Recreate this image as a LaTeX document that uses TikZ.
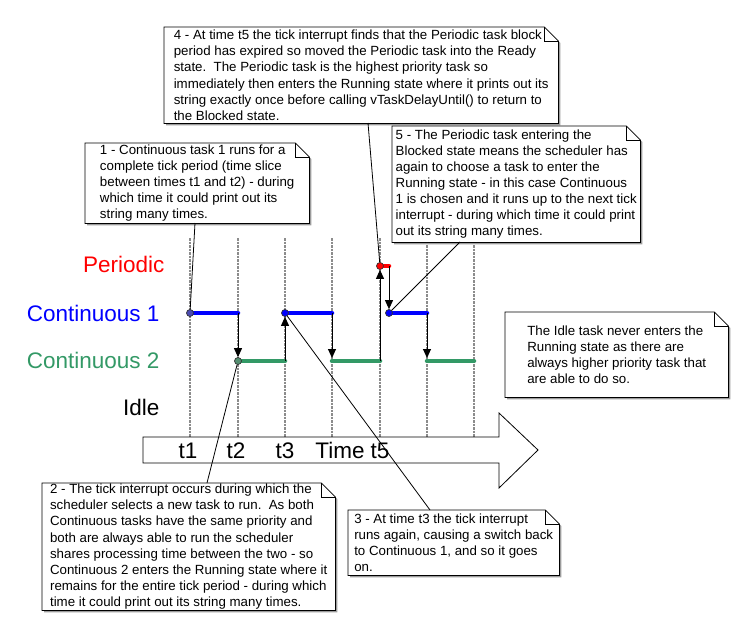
\documentclass[tikz,border=0pt]{standalone}
\usepackage{fontspec}
\setmainfont{Liberation Sans}
\usetikzlibrary{arrows.meta,backgrounds}
\definecolor{cPeriodic}{HTML}{FF0000}
\definecolor{cContA}{HTML}{0000FF}
\definecolor{cContB}{HTML}{339966}
\definecolor{cTick}{HTML}{8C8C8C}
\definecolor{cShadow}{HTML}{9C9C9C}
\tikzset{
  tickline/.style = {draw=cTick, line width=1.8pt, dash pattern=on 2.5pt off 1pt},
  run/.style      = {draw=#1, line width=4.5pt, line cap=round},
  dot/.style      = {circle, draw=black!80, fill=#1, line width=0.7pt,
                     minimum size=7pt, inner sep=0pt},
  sw/.style       = {-{Triangle[length=9pt,width=8pt]}, draw=black, line width=0.9pt},
  ptr/.style      = {draw=black, line width=0.8pt},
  note/.style     = {anchor=north west, align=left, inner sep=0pt,
                     font=\fontsize{13.3}{16.1}\selectfont},
  task/.style     = {anchor=base east, font=\fontsize{22.5}{26}\selectfont},
  tlab/.style     = {anchor=base, inner sep=0pt, font=\fontsize{22.5}{26}\selectfont},
}

\begin{document}
\begin{tikzpicture}[x=1pt, y=-1pt]
  \useasboundingbox (0,0) rectangle (737,621);

  \begin{scope}[on background layer]
    \foreach \x in {190,238,285,332,380,427,474}
      \draw[tickline] (\x,238) -- (\x,437);
  \end{scope}

  \node[task, text=cPeriodic] (lp) at (168,272) {Periodic};
  \node[task, text=cContA] (lc1) at (163,321) {Continuous 1};
  \node[task, text=cContB] (lc2) at (163,368) {Continuous 2};
  \node[task] (li) at (163,415) {Idle};

  \draw[fill=white, line width=0.8pt] (143,437) -- (499,437) -- (499,413) -- (538,450)
    -- (499,488) -- (499,463) -- (143,463) -- cycle;
  \node[tlab] (t1) at (188,458) {t1};
  \node[tlab] (t2) at (236,458) {t2};
  \node[tlab] (t3) at (285,458) {t3};
  \node[tlab] (tm) at (340,458) {Time};
  \node[tlab] (t5) at (380,458) {t5};

  \draw[run=cContA] (190,313) coordinate (a1s) -- (238,313) coordinate (a1e);
  \draw[run=cContB] (238,361) coordinate (b1s) -- (285,361) coordinate (b1e);
  \draw[run=cContA] (285,313) coordinate (a2s) -- (332,313) coordinate (a2e);
  \draw[run=cContB] (332,361) coordinate (b2s) -- (380,361) coordinate (b2e);
  \draw[run=cPeriodic] (380,266) coordinate (ps) -- (389,266) coordinate (pe);
  \draw[run=cContA] (389,313) coordinate (a3s) -- (427,313) coordinate (a3e);
  \draw[run=cContB] (427,361) coordinate (b3s) -- (474,361) coordinate (b3e);

  \node[dot=blue!40!gray] (d1) at (a1s) {};
  \node[dot=cContB!55!gray] (d2) at (b1s) {};
  \node[dot=cContA] (d3) at (a2s) {};
  \node[dot=cPeriodic] (d4) at (ps) {};
  \node[dot=cContA] (d5) at (a3s) {};
  \coordinate (g2) at (332,358);
  \coordinate (g3) at (427,358);

  \draw[sw] (a1e) -- (d2);
  \draw[sw] (b1e) -- (d3);
  \draw[sw] (a2e) -- (g2);
  \draw[sw] (b2e) -- (d4);
  \draw[sw] (pe) -- (d5);
  \draw[sw] (a3e) -- (g3);

  \node[note, minimum width=394pt, minimum height=96pt] (n4) at (164,27)
    {4 - At time t5 the tick interrupt finds that the Periodic task block\\
     period has expired so moved the Periodic task into the Ready\\
     state.\ \ The Periodic task is the highest priority task so\\
     immediately then enters the Running state where it prints out its\\
     string exactly once before calling vTaskDelayUntil() to return to\\
     the Blocked state.};
  \node[note, minimum width=224pt, minimum height=80pt] (n1) at (85,143)
    {1 - Continuous task 1 runs for a\\
     complete tick period (time slice\\
     between times t1 and t2) - during\\
     which time it could print out its\\
     string many times.};
  \node[note, minimum width=248pt, minimum height=116pt] (n5) at (392,126)
    {5 - The Periodic task entering the\\
     Blocked state means the scheduler has\\
     again to choose a task to enter the\\
     Running state - in this case Continuous\\
     1 is chosen and it runs up to the next tick\\
     interrupt - during which time it could print\\
     out its string many times.};
  \node[note, minimum width=223pt, minimum height=85pt] (n6) at (505,312)
    {The Idle task never enters the\\
     Running state as there are\\
     always higher priority task that\\
     are able to do so.};
  \node[note, minimum width=293pt, minimum height=127pt] (n2) at (42,483)
    {2 - The tick interrupt occurs during which the\\
     scheduler selects a new task to run.\ \ As both\\
     Continuous tasks have the same priority and\\
     both are always able to run the scheduler\\
     shares processing time between the two - so\\
     Continuous 2 enters the Running state where it\\
     remains for the entire tick period - during which\\
     time it could print out its string many times.};
  \node[note, minimum width=211pt, minimum height=65pt] (n3) at (348,510)
    {3 - At time t3 the tick interrupt\\
     runs again, causing a switch back\\
     to Continuous 1, and so it goes\\
     on.};

  \begin{scope}[on background layer]
    \foreach \n in {n1,n2,n3,n4,n5,n6} {
      \fill[cShadow] ([shift={(2,2)}]\n.north west) -- ([shift={(-12,2)}]\n.north east)
        -- ([shift={(2,16)}]\n.north east) -- ([shift={(2,2)}]\n.south east)
        -- ([shift={(2,2)}]\n.south west) -- cycle;
      \draw[fill=white, line width=0.8pt] (\n.north west) -- ([shift={(-14,0)}]\n.north east)
        -- ([shift={(0,14)}]\n.north east) -- (\n.south east) -- (\n.south west) -- cycle;
      \draw[line width=0.8pt] ([shift={(-14,0)}]\n.north east) -- ([shift={(-14,14)}]\n.north east)
        -- ([shift={(0,14)}]\n.north east);
    }
  \end{scope}

  \coordinate (p1) at (195,223);
  \coordinate (p2) at (207,483);
  \coordinate (p3) at (430,510);
  \coordinate (p4) at (368,123);
  \coordinate (p5) at (460,242);
  \draw[ptr] (p1) -- (d1);
  \draw[ptr] (p2) -- (d2);
  \draw[ptr] (p3) -- (d3);
  \draw[ptr] (p4) -- (d4);
  \draw[ptr] (p5) -- (d5);
\end{tikzpicture}
\end{document}
